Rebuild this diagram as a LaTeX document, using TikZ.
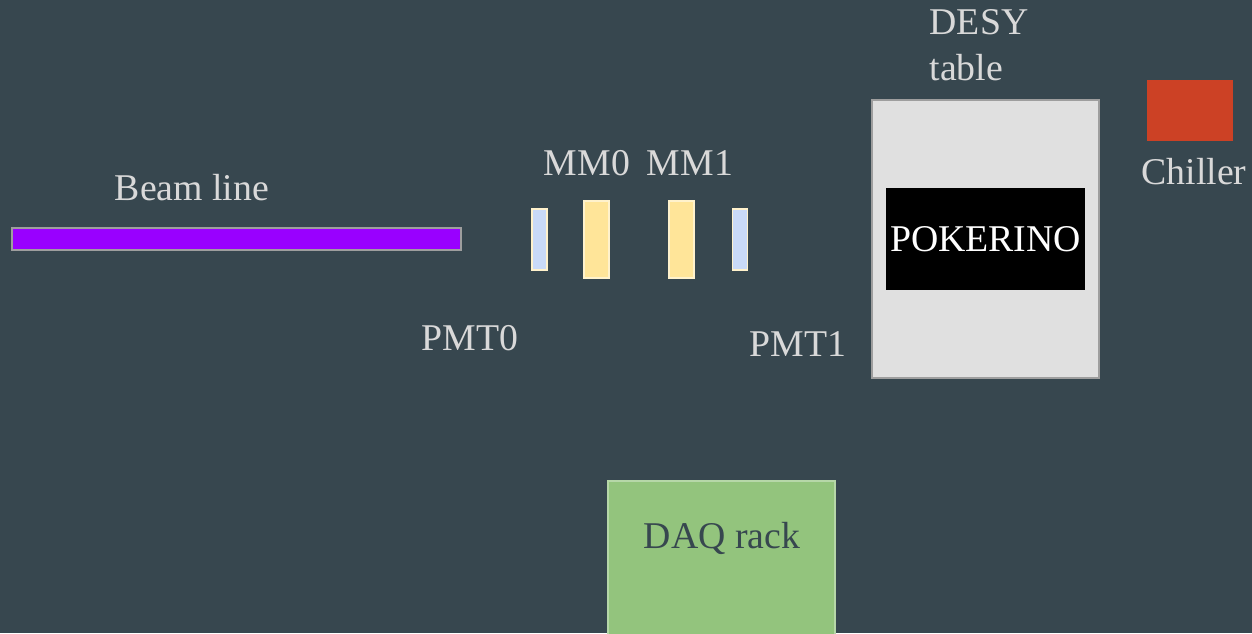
\documentclass[tikz,border=0pt]{standalone}
\usepackage{fontspec}
\setmainfont{Liberation Serif}
\usetikzlibrary{positioning}
\definecolor{bgslate}{HTML}{37474F}
\definecolor{txtgray}{HTML}{D9D9D9}
\definecolor{beampurple}{HTML}{9900FF}
\definecolor{edgegray}{HTML}{9E9E9E}
\definecolor{pmtblue}{HTML}{C9DAF8}
\definecolor{mmyellow}{HTML}{FFE599}
\definecolor{paleyellow}{HTML}{FFF2CC}
\definecolor{tablegray}{HTML}{E0E0E0}
\definecolor{chillred}{HTML}{CC4125}
\definecolor{daqgreen}{HTML}{93C47D}
\definecolor{daqedge}{HTML}{B6D7A8}
\tikzset{box/.style = {rectangle, inner sep = 0, line width = 1pt},
         lbl/.style = {text = txtgray, font = \fontsize{21.5}{26}\selectfont, inner sep = 0},
         det/.style = {box, draw = paleyellow}}

\begin{document}
\begin{tikzpicture}[x=0.02cm, y=-0.02cm]
    \fill [bgslate] (0, 0) rectangle (1252, 633);
    \useasboundingbox (0, 0) rectangle (1252, 633);

    \node [box, fill=beampurple, draw=edgegray, minimum width=8.98cm, minimum height=0.44cm] (beam) at (236.5, 239) {};
    \node [lbl] (beamlabel) at (192, 188) {Beam line};

    \node [det, fill=pmtblue, minimum width=0.3cm, minimum height=1.22cm] (pmt0) at (539.5, 239.5) {};
    \node [det, fill=mmyellow, minimum width=0.5cm, minimum height=1.54cm] (mm0) at (596.5, 239.5) {};
    \node [det, fill=mmyellow, minimum width=0.5cm, minimum height=1.54cm] (mm1) at (681.5, 239.5) {};
    \node [det, fill=pmtblue, minimum width=0.3cm, minimum height=1.22cm] (pmt1) at (740, 239.5) {};

    \node [lbl] (mm0label) at (587, 163) {MM0};
    \node [lbl] (mm1label) at (690, 163) {MM1};
    \node [lbl] (pmt0label) at (470, 338) {PMT0};
    \node [lbl] (pmt1label) at (798, 344) {PMT1};

    \node [box, fill=tablegray, draw=edgegray, minimum width=4.54cm, minimum height=5.56cm] (desy) at (985.5, 239) {};
    \node [lbl, align=left] (desylabel) at (979, 45) {DESY\\table};
    \node [box, fill=black, minimum width=3.98cm, minimum height=2.04cm, text=white, font=\fontsize{21.5}{26}\selectfont] (pokerino) at (985.5, 239) {POKERINO};

    \node [box, fill=chillred, minimum width=1.72cm, minimum height=1.22cm] (chiller) at (1190, 110.5) {};
    \node [lbl] (chillerlabel) at (1194, 172) {Chiller};

    \node [box, fill=daqgreen, draw=daqedge, minimum width=4.54cm, minimum height=3.18cm] (daq) at (721.5, 560.5) {};
    \node [lbl, text=bgslate] (daqlabel) at (722, 538) {DAQ rack};
\end{tikzpicture}
\end{document}
